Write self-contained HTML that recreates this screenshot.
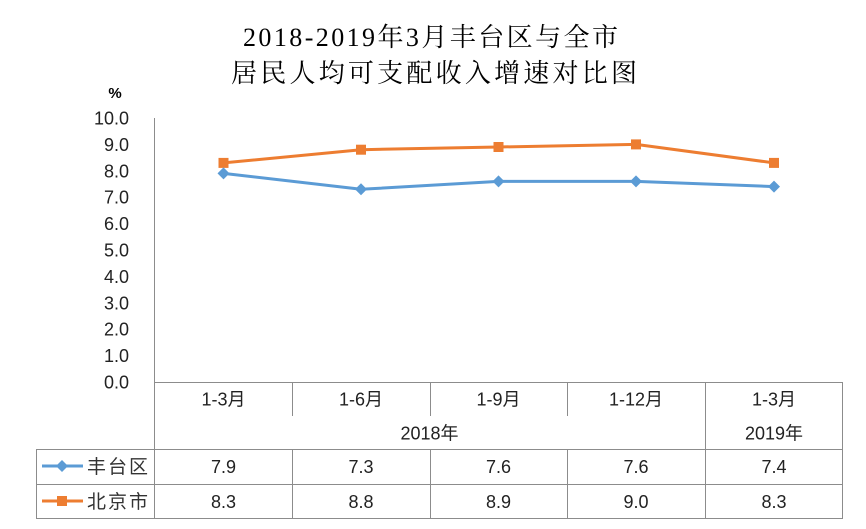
<!DOCTYPE html>
<html><head><meta charset="utf-8"><style>
html,body{margin:0;padding:0;background:#fff;}
svg{display:block;}
.t{font-family:"Liberation Sans","Noto Sans CJK SC",sans-serif;font-size:18px;fill:#222;}
</style></head><body>
<svg width="866" height="529" viewBox="0 0 866 529" xmlns="http://www.w3.org/2000/svg">
<rect width="866" height="529" fill="#fff"/>
<text x="430.5" y="46" text-anchor="middle" font-family="'Liberation Serif','Noto Serif CJK SC',serif" font-size="26" fill="#000" textLength="375" lengthAdjust="spacing">2018-2019年3月丰台区与全市</text>
<text x="434" y="82" text-anchor="middle" font-family="'Liberation Serif','Noto Serif CJK SC',serif" font-size="26" fill="#000" textLength="406" lengthAdjust="spacing">居民人均可支配收入增速对比图</text>
<text x="115" y="98" text-anchor="middle" font-family="'Liberation Sans',sans-serif" font-size="15" font-weight="bold" fill="#000">%</text>
<g class="t" text-anchor="end">
<text x="129" y="388.5">0.0</text>
<text x="129" y="362.1">1.0</text>
<text x="129" y="335.7">2.0</text>
<text x="129" y="309.3">3.0</text>
<text x="129" y="282.9">4.0</text>
<text x="129" y="256.5">5.0</text>
<text x="129" y="230.1">6.0</text>
<text x="129" y="203.7">7.0</text>
<text x="129" y="177.3">8.0</text>
<text x="129" y="150.9">9.0</text>
<text x="129" y="124.5">10.0</text>
</g>
<g stroke="#8c8c8c" stroke-width="1" fill="none">
<line x1="154.5" y1="118" x2="154.5" y2="518.5"/>
<line x1="154" y1="382.5" x2="843" y2="382.5"/>
<line x1="842.5" y1="382" x2="842.5" y2="518.5"/>
<line x1="292.5" y1="382" x2="292.5" y2="416"/>
<line x1="430.5" y1="382" x2="430.5" y2="416"/>
<line x1="567.5" y1="382" x2="567.5" y2="416"/>
<line x1="705.5" y1="382" x2="705.5" y2="518.5"/>
<line x1="36" y1="449.5" x2="843" y2="449.5"/>
<line x1="36" y1="484.5" x2="843" y2="484.5"/>
<line x1="36" y1="518.5" x2="843" y2="518.5"/>
<line x1="36.5" y1="449" x2="36.5" y2="518.5"/>
<line x1="292.5" y1="449" x2="292.5" y2="518.5"/>
<line x1="430.5" y1="449" x2="430.5" y2="518.5"/>
<line x1="567.5" y1="449" x2="567.5" y2="518.5"/>
</g>
<g class="t" text-anchor="middle">
<text x="223.5" y="405.5">1-3月</text>
<text x="361" y="405.5">1-6月</text>
<text x="498.5" y="405.5">1-9月</text>
<text x="636" y="405.5">1-12月</text>
<text x="774" y="405.5">1-3月</text>
<text x="429.5" y="439.5">2018年</text>
<text x="774" y="439.5">2019年</text>
<text x="223.5" y="473">7.9</text>
<text x="361" y="473">7.3</text>
<text x="498.5" y="473">7.6</text>
<text x="636" y="473">7.6</text>
<text x="774" y="473">7.4</text>
<text x="223.5" y="508">8.3</text>
<text x="361" y="508">8.8</text>
<text x="498.5" y="508">8.9</text>
<text x="636" y="508">9.0</text>
<text x="774" y="508">8.3</text>
</g>
<polyline points="223.5,162.9 361,149.7 498.5,147 636,144.4 774,162.9" fill="none" stroke="#ED7D31" stroke-width="3" stroke-linejoin="round"/>
<polyline points="223.5,173.4 361,189.3 498.5,181.4 636,181.4 774,186.6" fill="none" stroke="#5B9BD5" stroke-width="3" stroke-linejoin="round"/>
<g fill="#ED7D31">
<rect x="218.5" y="157.9" width="10" height="10"/>
<rect x="356" y="144.7" width="10" height="10"/>
<rect x="493.5" y="142" width="10" height="10"/>
<rect x="631" y="139.4" width="10" height="10"/>
<rect x="769" y="157.9" width="10" height="10"/>
</g>
<g fill="#5B9BD5">
<polygon points="223.5,167.4 229.5,173.4 223.5,179.4 217.5,173.4"/>
<polygon points="361,183.3 367,189.3 361,195.3 355,189.3"/>
<polygon points="498.5,175.4 504.5,181.4 498.5,187.4 492.5,181.4"/>
<polygon points="636,175.4 642,181.4 636,187.4 630,181.4"/>
<polygon points="774,180.6 780,186.6 774,192.6 768,186.6"/>
</g>
<line x1="42" y1="466" x2="83" y2="466" stroke="#5B9BD5" stroke-width="3"/>
<polygon points="62,460 68,466 62,472 56,466" fill="#5B9BD5"/>
<line x1="42" y1="501" x2="83" y2="501" stroke="#ED7D31" stroke-width="3"/>
<rect x="57" y="496" width="10" height="10" fill="#ED7D31"/>
<text x="87" y="473" font-family="'Noto Sans CJK SC',sans-serif" font-size="19" fill="#333" textLength="61" lengthAdjust="spacing">丰台区</text>
<text x="87" y="508" font-family="'Noto Sans CJK SC',sans-serif" font-size="19" fill="#333" textLength="61" lengthAdjust="spacing">北京市</text>
</svg>
</body></html>
